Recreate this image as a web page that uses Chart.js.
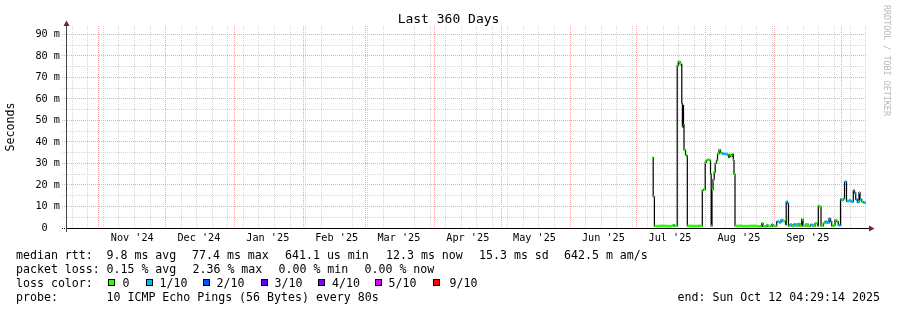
<!DOCTYPE html>
<html><head><meta charset="utf-8">
<script src="https://cdn.jsdelivr.net/npm/chart.js@4.4.1/dist/chart.umd.min.js"></script>
<style>
html,body{margin:0;padding:0;background:#fff;}
#wrap{position:relative;width:897px;height:310px;overflow:hidden;background:#fff;}
#c{position:absolute;left:0;top:0;}
.tx{position:absolute;font-family:"DejaVu Sans Mono",monospace;font-size:11.6px;line-height:14px;white-space:pre;color:#000;}
.sq{position:absolute;width:5px;height:5px;border:1px solid #000;}
#title{position:absolute;left:0;width:897px;top:11px;text-align:center;font-family:"DejaVu Sans Mono",monospace;font-size:13px;line-height:16px;color:#000;}
#wm{position:absolute;left:892px;top:5px;transform-origin:0 0;transform:rotate(90deg);font-family:"DejaVu Sans Mono",monospace;font-size:8.4px;line-height:10px;white-space:pre;color:#b8b8b8;}
</style></head>
<body>
<div id="wrap">
<canvas id="c" width="897" height="310"></canvas>
<div id="title">Last 360 Days</div>
<div id="wm">RRDTOOL / TOBI OETIKER</div>
</div>
<script>
// ---- data ----
const periodEnd = Date.UTC(2025, 9, 12, 4, 29, 14);   // end: Sun Oct 12 04:29:14 2025
const periodDays = 360;
const monthLabels = ["Nov '24","Dec '24","Jan '25","Feb '25","Mar '25","Apr '25","May '25","Jun '25","Jul '25","Aug '25","Sep '25"];
const yTickValues = [0,5,10,15,20,25,30,35,40,45,50,55,60,65,70,75,80,85,90];

// sample positions in days since the start of the 360-day window
const sampleDay = [263.70,264.24,264.78,267.30,270.00,272.70,273.29,273.83,275.04,275.54,276.30,276.75,277.11,277.38,277.65,277.88,278.10,278.78,279.23,279.59,281.70,283.95,286.34,286.88,287.64,288.14,288.68,289.58,290.03,290.34,290.70,291.15,291.69,292.14,292.73,293.18,293.85,294.53,295.20,296.55,297.59,298.13,298.58,299.25,299.84,300.29,300.60,301.05,304.20,307.80,310.95,
  313.07,313.65,315.32,315.90,317.57,318.15,319.82,320.85,321.75,322.65,323.78,324.09,324.68,325.13,325.80,326.70,327.60,328.50,329.40,330.30,331.07,331.65,333.00,333.90,335.03,336.15,337.05,338.18,338.54,339.30,339.75,340.79,341.55,342.45,343.35,344.03,344.57,345.38,346.05,346.82,347.54,348.53,349.20,349.79,350.33,351.23,352.35,353.25,354.29,354.83,355.37,356.09,356.85,357.30,358.07,358.88];
// median rtt in ms
const medianMs = [32.7,14.6,0.9,1.0,0.9,1.1,1.3,1.0,75.5,77.4,76.3,75.8,58.0,47.0,57.0,48.0,36.3,34.0,33.5,1.0,0.9,1.0,17.5,18.0,30.5,31.5,31.8,31.5,25.0,1.0,17.7,22.5,26.0,30.0,31.5,34.5,36.3,35.0,34.5,34.4,34.0,32.8,34.0,33.3,34.3,31.5,25.0,1.0,0.9,1.0,0.8,
  2.2,0.8,1.4,0.9,1.6,0.9,3.0,2.6,3.7,3.2,1.5,12.2,11.5,1.0,1.6,0.9,1.8,1.0,1.9,1.0,4.0,1.0,1.8,0.9,1.5,0.9,2.2,1.0,10.2,9.8,1.0,2.2,3.0,2.4,4.4,3.0,1.0,1.2,3.7,3.0,1.3,13.3,13.0,13.6,21.5,12.5,12.8,12.2,17.5,16.3,13.3,12.0,16.5,13.3,12.2,11.8];
// packet loss in tenths
const lossTenths = [0,0,0,0,0,0,1,0,0,0,0,1,0,0,0,0,0,0,0,0,0,0,0,0,0,0,0,0,0,0,0,0,0,0,0,0,0,0,1,1,0,0,0,0,0,0,0,0,0,0,0,
  0,0,1,0,1,0,1,1,1,0,0,1,1,0,1,0,1,0,1,0,0,0,0,0,1,0,0,0,0,0,0,0,1,1,1,1,0,0,0,0,1,1,0,1,1,1,1,1,0,1,1,1,0,1,0,1];
const dataEndDay = 359.87;

const lossLevels = [0,1,2,3,4,5,9];
const lossLegend = ["0","1/10","2/10","3/10","4/10","5/10","9/10"];
const lossColors = ["#26ff00","#00b8ff","#0059ff","#5e00ff","#7e00ff","#dd00ff","#ff0000"];

const statsRtt = ["median rtt:","9.8 ms avg","77.4 ms max","641.1 us min","12.3 ms now","15.3 ms sd","642.5 m am/s"];
const statsLoss = ["packet loss:","0.15 % avg","2.36 % max","0.00 % min","0.00 % now"];
const probeText = ["probe:","10 ICMP Echo Pings (56 Bytes) every 80s"];
const endText = "end: Sun Oct 12 04:29:14 2025";

// ---- derived ----
const DAY = 86400000;
const periodStart = periodEnd - periodDays*DAY;
const toDay = t => (t - periodStart)/DAY;
const colorOfLoss = l => lossColors[lossLevels.indexOf(l)];

const tickKind = new Map();
const tickLabel = new Map();
for (let t = Date.UTC(2024,9,20); t <= periodEnd; t += 7*DAY) tickKind.set(toDay(t),'week');
for (let k = 0; k < 12; k++) { const t = Date.UTC(2024,10+k,1); if (t<=periodEnd) tickKind.set(toDay(t),'month'); }
monthLabels.forEach((lab,k)=>{ const d = toDay(Date.UTC(2024,10+k,16)); tickKind.set(d,'label'); tickLabel.set(d,lab); });
const xTickValues = [...tickKind.keys()].sort((a,b)=>a-b);

const smoke = sampleDay.map((d,i)=>({x:d,y:medianMs[i]}));
smoke.push({x:dataEndDay,y:medianMs[medianMs.length-1]});
const lossLine = [];
for (let i=0;i<sampleDay.length;i++){
  const x1 = i+1<sampleDay.length ? sampleDay[i+1] : dataEndDay;
  lossLine.push({x:sampleDay[i],y:medianMs[i],loss:lossTenths[i]});
  lossLine.push({x:x1,y:medianMs[i],loss:lossTenths[i]});
  lossLine.push({x:x1,y:null,loss:lossTenths[i]});
}

const MONO = "'DejaVu Sans Mono', monospace";
const RED = '#f2a6a6', GRAY = '#d6d6d6';

const axisDeco = {
  id:'axisDeco',
  afterDraw(chart){
    const {ctx, chartArea:a} = chart;
    ctx.save();
    ctx.strokeStyle = '#000'; ctx.lineWidth = 1;
    ctx.beginPath(); ctx.moveTo(a.right, a.bottom+0.5); ctx.lineTo(a.right+3, a.bottom+0.5); ctx.stroke();
    ctx.strokeStyle = '#444';
    ctx.beginPath(); ctx.moveTo(a.left+0.5, a.bottom); ctx.lineTo(a.left+0.5, a.bottom+4); ctx.stroke();
    ctx.fillStyle = 'rgb(128,31,31)';
    ctx.beginPath(); ctx.moveTo(a.right+3, a.bottom-2.5); ctx.lineTo(a.right+8.5, a.bottom+0.5); ctx.lineTo(a.right+3, a.bottom+3.5); ctx.closePath(); ctx.fill();
    ctx.beginPath(); ctx.moveTo(a.left-2.5, a.top); ctx.lineTo(a.left+0.5, a.top-5.5); ctx.lineTo(a.left+3.5, a.top); ctx.closePath(); ctx.fill();
    ctx.restore();
  }
};

new Chart(document.getElementById('c'), {
  type:'line',
  data:{datasets:[
    {data:smoke, stepped:true, borderColor:'#000', borderWidth:1.2, pointRadius:0, fill:false, order:2},
    {data:lossLine, borderWidth:2.5, pointRadius:0, fill:false, spanGaps:false, order:1, borderColor:'#26ff00',
     segment:{borderColor: c => colorOfLoss(lossLine[c.p0DataIndex].loss)}}
  ]},
  options:{
    responsive:false, animation:false, devicePixelRatio:1, events:[],
    layout:{padding:{top:26,right:31,left:0,bottom:0}},
    plugins:{legend:{display:false}, title:{display:false}, tooltip:{enabled:false}},
    scales:{
      x:{type:'linear', min:0, max:periodDays,
        afterBuildTicks(s){ s.ticks = xTickValues.map(v=>({value:v})); },
        afterFit(s){ s.height = 82; },
        ticks:{autoSkip:false, maxRotation:0, minRotation:0, padding:4, color:'#000',
          font:{family:MONO, size:10.2},
          callback:v => tickLabel.has(v) ? tickLabel.get(v) : ''},
        grid:{drawTicks:false, lineWidth:1,
          color: c => { const k = tickKind.get(c.tick && c.tick.value); return k==='month'?RED:(k==='week'?GRAY:'rgba(0,0,0,0)'); }},
        border:{display:true, color:'#000', width:1, dash:[1,1]}
      },
      y:{type:'linear', min:0, max:93.9,
        afterBuildTicks(s){ s.ticks = yTickValues.map(v=>({value:v})); },
        afterFit(s){ s.width = 66; },
        title:{display:true, text:'Seconds', color:'#000', font:{family:MONO, size:11.6}, padding:{top:4,bottom:4}},
        ticks:{autoSkip:false, padding:2, color:'#000', font:{family:MONO, size:10.2},
          callback:v => v===0 ? '0  ' : (v%10===0 ? v+' m' : '')},
        grid:{drawTicks:true, tickLength:4, lineWidth:1,
          color: c => { const v = c.tick.value; return v===0 ? '#000' : (v%10===0 ? RED : GRAY); },
          tickColor: c => { const v = c.tick.value; return v===0 ? '#000' : (v%10===0 ? RED : GRAY); },
          tickBorderDash:[1,1]},
        border:{display:true, color:'#444', width:1, dash:[1,1]}
      }
    }
  },
  plugins:[axisDeco]
});

// ---- text legend below the chart ----
const wrap = document.getElementById('wrap');
function put(text, x, y){ const d=document.createElement('div'); d.className='tx'; d.textContent=text; d.style.left=x+'px'; d.style.top=y+'px'; wrap.appendChild(d); }
const rttX = [16,106.5,192,285,386,479,564];
statsRtt.forEach((t,i)=>put(t,rttX[i],248));
const lossX = [16,106.5,192.5,278.5,364.5];
statsLoss.forEach((t,i)=>put(t,lossX[i],261.5));
put("loss color:",16,275.5);
const sqX = [108,146,203,261,318,375,433];
const labX = [122.5,159.5,216.5,274.5,332,388.5,449.5];
lossLegend.forEach((lab,i)=>{
  const s=document.createElement('div'); s.className='sq'; s.style.left=sqX[i]+'px'; s.style.top='279px'; s.style.background=lossColors[i]; wrap.appendChild(s);
  put(lab,labX[i],275.5);
});
put(probeText[0],16,289.5);
put(probeText[1],106.5,289.5);
put(endText,677.5,289.5);
</script>
</body></html>
